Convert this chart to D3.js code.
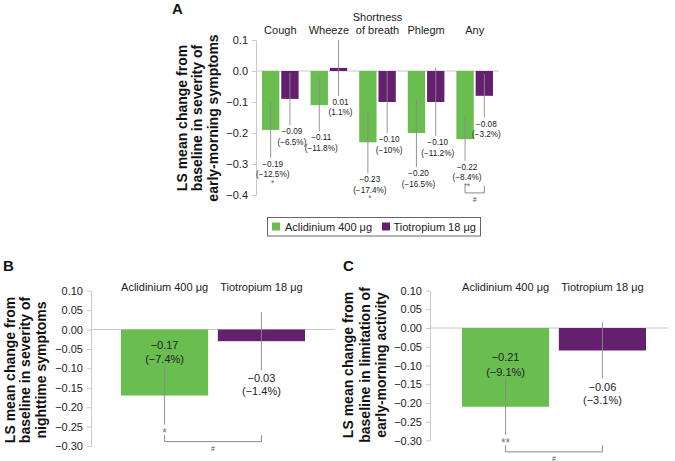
<!DOCTYPE html>
<html>
<head>
<meta charset="utf-8">
<script src="https://cdn.jsdelivr.net/npm/d3@7"></script>
<style>
  body { margin: 0; background: #fff; }
  svg { font-family: "Liberation Sans", Arial, sans-serif; }
</style>
</head>
<body>
<svg id="chart" width="675" height="461"></svg>
<script>
// treatments + panel A (early-morning symptoms)
const treatments = ["Aclidinium 400 μg", "Tiotropium 18 μg"];
const symptoms = ["Cough", "Wheeze", "Shortness of breath", "Phlegm", "Any"];
const symptomLines = [["Cough"], ["Wheeze"], ["Shortness", "of breath"], ["Phlegm"], ["Any"]];
const aclidMorning = [-0.19, -0.11, -0.23, -0.20, -0.22];
const aclidMorningPct = ["−12.5%", "−11.8%", "−17.4%", "−16.5%", "−8.4%"];
const aclidMorningErr = [0.09, 0.085, 0.10, 0.11, 0.07];
const aclidMorningSig = ["*", "", "*", "", "**"];
const tioMorning = [-0.09, 0.01, -0.10, -0.10, -0.08];
const tioMorningPct = ["−6.5%", "1.1%", "−10%", "−11.2%", "−3.2%"];
const tioMorningErr = [0.085, 0.09, 0.10, 0.11, 0.07];
const morningBracket = ["", "", "", "", "#"];
const ticksA = [0.1, 0, -0.1, -0.2, -0.3, -0.4];

// panel B (nighttime symptoms)
const nightVals = [-0.17, -0.03];
const nightPct = ["−7.4%", "−1.4%"];
const nightErr = [0.075, 0.075];
const nightSig = ["*", ""];

// panel C (early-morning activity)
const activityVals = [-0.21, -0.06];
const activityPct = ["−9.1%", "−3.1%"];
const activityErr = [0.075, 0.075];
const activitySig = ["**", ""];

const ticksBC = [0.10, 0.05, 0, -0.05, -0.10, -0.15, -0.20, -0.25, -0.30];

const svg = d3.select("#chart");
const color = d3.scaleOrdinal(treatments, ["#6abd4f", "#641f6e"]);
const axisGray = "#c8c8c8", whisk = "#8a8a8a", ink = "#222";
const fontFam = '"Liberation Sans", Arial, sans-serif';

function yAxis(x0, y, ticks, fmt) {
  const g = svg.append("g")
    .attr("transform", `translate(${x0},0)`)
    .call(d3.axisLeft(y).tickValues(ticks).tickFormat(d3.format(fmt))
      .tickSize(4).tickSizeOuter(0).tickPadding(4));
  g.attr("font-family", fontFam).attr("font-size", 11);
  g.select(".domain").attr("stroke", axisGray);
  g.selectAll(".tick line").attr("stroke", axisGray);
  g.selectAll(".tick text").attr("fill", ink);
}

function yTitle(lines, xs, yc) {
  lines.forEach((t, i) => {
    svg.append("text")
      .attr("transform", `translate(${xs[i]},${yc}) rotate(-90)`)
      .attr("text-anchor", "middle").attr("dy", "0.35em")
      .attr("font-weight", "bold").attr("font-size", 14).attr("fill", "#111")
      .text(t);
  });
}

function letter(t, x, y) {
  svg.append("text").attr("x", x).attr("y", y)
    .attr("font-weight", "bold").attr("font-size", 15).attr("fill", "#111").text(t);
}

function bracket(xa, xb, top, bottom, mark) {
  svg.append("path")
    .attr("d", `M${xa},${top}V${bottom}H${xb}V${top}`)
    .attr("fill", "none").attr("stroke", whisk);
  svg.append("text").attr("x", (xa + xb) / 2).attr("y", bottom + 9.5)
    .attr("text-anchor", "middle").attr("font-size", 7).attr("fill", "#555").text(mark);
}

// ---------- Panel A ----------
letter("A", 172, 13.5);
const xA = d3.scaleBand(symptoms, [256, 499]);
const xInA = d3.scaleBand(treatments, [6, 42.6]).paddingInner(0.1);
const yA = d3.scaleLinear([-0.4, 0.1], [195, 40]);

yAxis(256, yA, ticksA, ".1f");
yTitle(["LS mean change from", "baseline in severity of", "early-morning symptoms"], [182, 197.5, 213], 118);

svg.append("line").attr("x1", 256).attr("x2", 499)
  .attr("y1", yA(0)).attr("y2", yA(0)).attr("stroke", axisGray);

symptoms.forEach((s, i) => {
  const lines = symptomLines[i];
  lines.forEach((l, j) => {
    svg.append("text")
      .attr("x", xA(s) + xA.bandwidth() / 2)
      .attr("y", 34 - (lines.length - 1 - j) * 13)
      .attr("text-anchor", "middle").attr("font-size", 11).attr("fill", ink).text(l);
  });
});

const rowsA = symptoms.flatMap((s, i) => [
  { s, t: treatments[0], v: aclidMorning[i], e: aclidMorningErr[i], pct: aclidMorningPct[i], sig: aclidMorningSig[i] },
  { s, t: treatments[1], v: tioMorning[i], e: tioMorningErr[i], pct: tioMorningPct[i], sig: "" }
]);
const cxA = d => xA(d.s) + xInA(d.t) + xInA.bandwidth() / 2;

svg.append("g").selectAll("rect").data(rowsA).join("rect")
  .attr("x", d => xA(d.s) + xInA(d.t))
  .attr("width", xInA.bandwidth())
  .attr("y", d => yA(Math.max(d.v, 0)))
  .attr("height", d => Math.abs(yA(d.v) - yA(0)))
  .attr("fill", d => color(d.t));

svg.append("g").selectAll("line").data(rowsA).join("line")
  .attr("x1", cxA).attr("x2", cxA)
  .attr("y1", d => yA(d.v + d.e)).attr("y2", d => yA(d.v - d.e))
  .attr("stroke", whisk).attr("stroke-width", 0.9);

const fmtV = d3.format(".2f");
const labA = svg.append("g").attr("font-size", 8.2).attr("fill", ink).attr("text-anchor", "middle");
rowsA.forEach(d => {
  const yb = yA(d.v - d.e), x = cxA(d) + 2;
  labA.append("text").attr("x", x).attr("y", yb + 9).text(fmtV(d.v));
  labA.append("text").attr("x", x).attr("y", yb + 19.5).text(`(${d.pct})`);
  if (d.sig) labA.append("text").attr("x", x).attr("y", yb + 28).attr("fill", "#666").text(d.sig);
});

symptoms.forEach((s, i) => {
  if (!morningBracket[i]) return;
  const a = rowsA[i * 2], b = rowsA[i * 2 + 1];
  const yb = yA(a.v - a.e);
  bracket(cxA(a), cxA(b), yb + 25, yb + 32, morningBracket[i]);
});

// legend
const lg = svg.append("g");
lg.append("rect").attr("x", 267.5).attr("y", 217.5).attr("width", 213).attr("height", 18.5)
  .attr("fill", "#fff").attr("stroke", "#666");
[[272, 285], [382, 393.5]].forEach(([sx, tx], i) => {
  lg.append("rect").attr("x", sx).attr("y", 222.5).attr("width", 8).attr("height", 8).attr("fill", color(treatments[i]));
  lg.append("text").attr("x", tx).attr("y", 230.5).attr("font-size", 11).attr("fill", ink).text(treatments[i]);
});

// ---------- Panels B and C ----------
function panel(cfg) {
  letter(cfg.letter, cfg.lx, 271);
  const y = d3.scaleLinear([-0.30, 0.10], [cfg.yBot, cfg.yTop]);
  const x = d3.scaleBand(treatments, [cfg.bx0, cfg.bx1]).paddingInner(0.1);
  const cx = t => x(t) + x.bandwidth() / 2;

  yAxis(cfg.ax, y, ticksBC, ".2f");
  yTitle(cfg.title, cfg.titleX, cfg.titleY);

  svg.append("line").attr("x1", cfg.ax).attr("x2", cfg.zx)
    .attr("y1", y(0)).attr("y2", y(0)).attr("stroke", axisGray);

  treatments.forEach(t => {
    svg.append("text").attr("x", cx(t)).attr("y", 291)
      .attr("text-anchor", "middle").attr("font-size", 11).attr("fill", ink).text(t);
  });

  const rows = treatments.map((t, i) => ({ t, v: cfg.vals[i], e: cfg.err[i], pct: cfg.pct[i], sig: cfg.sig[i] }));

  svg.append("g").selectAll("rect").data(rows).join("rect")
    .attr("x", d => x(d.t)).attr("width", x.bandwidth())
    .attr("y", d => y(Math.max(d.v, 0)))
    .attr("height", d => Math.abs(y(d.v) - y(0)))
    .attr("fill", d => color(d.t));

  svg.append("g").selectAll("line").data(rows).join("line")
    .attr("x1", d => cx(d.t)).attr("x2", d => cx(d.t))
    .attr("y1", d => y(d.v + d.e)).attr("y2", d => y(d.v - d.e))
    .attr("stroke", whisk).attr("stroke-width", 0.9);

  const lab = svg.append("g").attr("font-size", 11).attr("fill", ink).attr("text-anchor", "middle");
  rows.forEach((d, i) => {
    const top = y(d.v + d.e), bot = y(d.v - d.e);
    if (i === 0) {
      // label sits inside the bar, above the whisker
      lab.append("text").attr("x", cx(d.t)).attr("y", top - 17.5).text(fmtV(d.v));
      lab.append("text").attr("x", cx(d.t)).attr("y", top - 3).text(`(${d.pct})`);
    } else {
      lab.append("text").attr("x", cx(d.t)).attr("y", bot + 12).text(fmtV(d.v));
      lab.append("text").attr("x", cx(d.t)).attr("y", bot + 25).text(`(${d.pct})`);
    }
    if (d.sig) lab.append("text").attr("x", cx(d.t)).attr("y", bot + 12)
      .attr("font-size", 12).attr("fill", "#777").text(d.sig);
  });

  const a = rows[0];
  const yb = y(a.v - a.e);
  bracket(cx(rows[0].t), cx(rows[1].t), yb + 10.5, yb + 17, "#");
}

panel({
  letter: "B", lx: 3, ax: 91, zx: 335, bx0: 121, bx1: 305, yTop: 290.7, yBot: 446,
  title: ["LS mean change from", "baseline in severity of", "nighttime symptoms"],
  titleX: [10, 25.5, 41], titleY: 370,
  vals: nightVals, err: nightErr, pct: nightPct, sig: nightSig
});

panel({
  letter: "C", lx: 343, ax: 430, zx: 668, bx0: 462, bx1: 646, yTop: 290.5, yBot: 440.5,
  title: ["LS mean change from", "baseline in limitation of", "early-morning activity"],
  titleX: [348, 365, 381], titleY: 365,
  vals: activityVals, err: activityErr, pct: activityPct, sig: activitySig
});
</script>
</body>
</html>
